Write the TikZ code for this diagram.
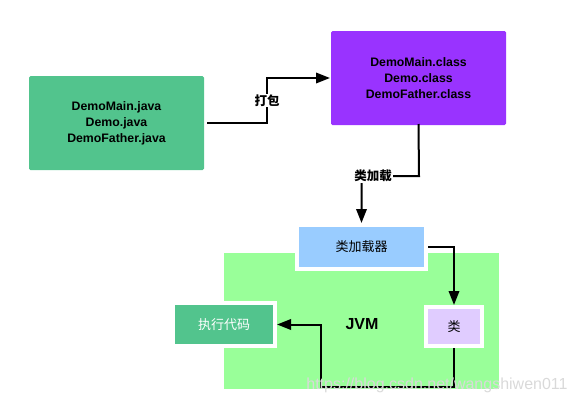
\documentclass[tikz,border=0pt]{standalone}
\usepackage{fontspec}
\setmainfont{Liberation Sans}
\newfontfamily\cjk{Noto Sans CJK SC}
\usepackage{xcolor}
\usepackage{tikz}
\usetikzlibrary{arrows.meta,positioning}

\definecolor{srcgreen}{HTML}{52C48D}
\definecolor{clspurple}{HTML}{9933FF}
\definecolor{jvmgreen}{HTML}{99FF99}
\definecolor{loadblue}{HTML}{99CCFF}
\definecolor{leililac}{HTML}{E0CCFF}

\begin{document}
\begin{tikzpicture}[x=1pt,y=-1pt,>={Triangle[length=14pt,width=10.5pt]},
   line width=2pt,
   file/.style={rectangle,rounded corners=1.5pt,minimum width=175pt,minimum height=94pt,
     align=center,font=\bfseries\fontsize{12.3}{16}\selectfont,text=black},
   inbox/.style={rectangle,draw=white,line width=4pt,font=\cjk\fontsize{13}{15}\selectfont},
   lbl/.style={fill=white,inner sep=1pt,font=\cjk\bfseries\fontsize{12.5}{14}\selectfont}]
   \useasboundingbox (0,0) rectangle (576,405);
   \fill[jvmgreen] (224,253) rectangle (499,389);
   \node[file,fill=srcgreen] (S) at (116.5,123) {DemoMain.java\\Demo.java\\DemoFather.java};
   \node[file,fill=clspurple] (C) at (418.5,78) {DemoMain.class\\Demo.class\\DemoFather.class};
   \node[inbox,fill=loadblue,minimum width=129pt,minimum height=44pt] (L) at (361.5,247) {类加载器};
   \node[inbox,fill=srcgreen,text=white,minimum width=102pt,minimum height=43pt] (R) at (224,324.5) {执行代码};
   \node[inbox,fill=leililac,minimum width=56pt,minimum height=39pt] (K) at (454,326.5) {类};
   \node[font=\bfseries\fontsize{16}{18}\selectfont] (J) at (362,324) {JVM};
   \coordinate (p1) at (267,123);
   \coordinate (p2) at (419,176);
   \coordinate (p3) at (454,387);
   \coordinate (p4) at (321,387);
   \draw[->] ([xshift=2pt]S.east) -- (p1) |- node[lbl,pos=0.25] {打包} (C.west);
   \draw[->] ([yshift=2pt]C.south) -- (p2) -| (L.north);
   \node[lbl] at (373,176) {类加载};
   \draw[->] (L.east) -| (K.north);
   \draw[->] (K.south) -- (p3) -- (p4) |- (R.east);
   \node[text=gray!30,font=\fontsize{16}{18}\selectfont] (W) at (437,385) {https://blog.csdn.net/wangshiwen011};
\end{tikzpicture}
\end{document}
